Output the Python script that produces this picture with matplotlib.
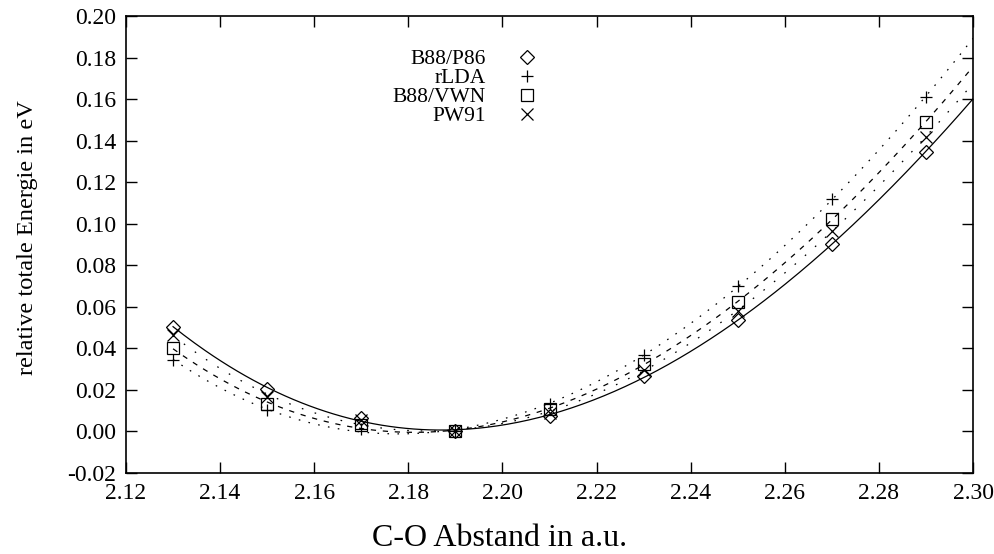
import matplotlib
matplotlib.use("Agg")
import matplotlib.pyplot as plt
import numpy as np

plt.rcParams['font.family'] = ['Liberation Serif', 'DejaVu Serif']

# C-O distance (a.u.)
abstand = [2.13, 2.15, 2.17, 2.19, 2.21, 2.23, 2.25, 2.27, 2.29]

# relative total energy (eV)
b88_p86 = [0.0505, 0.0204, 0.0067, 0.0000, 0.0072, 0.0265, 0.0535, 0.0904, 0.1347]
rlda    = [0.0345, 0.0104, 0.0013, 0.0000, 0.0131, 0.0368, 0.0698, 0.1120, 0.1611]
b88_vwn = [0.0400, 0.0132, 0.0030, 0.0000, 0.0107, 0.0325, 0.0624, 0.1021, 0.1491]
pw91    = [0.0465, 0.0164, 0.0053, 0.0000, 0.0091, 0.0298, 0.0580, 0.0965, 0.1419]

labels = ['B88/P86', 'rLDA', 'B88/VWN', 'PW91']
series = [b88_p86, rlda, b88_vwn, pw91]
markers = ['D', '+', 's', 'x']
msizes = [7.5, 9, 8.5, 8]
linestyles = ['-', (0, (1.3, 6.7)), (0, (4.2, 5.4)), (0, (1.3, 9.5))]

xticks = [2.12, 2.14, 2.16, 2.18, 2.20, 2.22, 2.24, 2.26, 2.28, 2.30]
yticks = [-0.02, 0.00, 0.02, 0.04, 0.06, 0.08, 0.10, 0.12, 0.14, 0.16, 0.18, 0.20]

fig = plt.figure(figsize=(9.95, 5.54), dpi=100)
ax = fig.add_axes([126/995, 1 - 473/554, (973-126)/995, (473-16)/554])

xfit = np.linspace(abstand[0], 2.30, 300)
handles = []
for vals, lab, m, ms, ls in zip(series, labels, markers, msizes, linestyles):
    coef = np.polyfit(abstand, vals, 3)
    ax.plot(xfit, np.polyval(coef, xfit), color='black', lw=0.9, ls=ls)
    h, = ax.plot(abstand, vals, ls='none', marker=m, ms=ms, mfc='none',
                 mec='black', mew=0.9, label=lab)
    handles.append(h)

ax.set_xlim(2.12, 2.30)
ax.set_ylim(-0.02, 0.20)
ax.set_xticks(xticks)
ax.set_yticks(yticks)
ax.set_xticklabels(['%.2f' % v for v in xticks])
ax.set_yticklabels(['%.2f' % v for v in yticks])
ax.tick_params(direction='in', length=8, width=1, top=True, right=True,
               labelsize=17, pad=7)
for s in ax.spines.values():
    s.set_linewidth(1.2)

ax.set_xlabel('C-O Abstand in a.u.', fontsize=23)
ax.xaxis.label.set_va('baseline')
ax.xaxis.set_label_coords(0.4416, -0.16)
ax.set_ylabel('relative totale Energie in eV', fontsize=17.6)
ax.yaxis.set_label_coords(-0.104, 0.516)

leg = ax.legend(handles=handles, loc='upper right', bbox_to_anchor=(0.496, 0.951),
                frameon=False, markerfirst=False, fontsize=15.5, labelspacing=-0.05,
                handlelength=0.8, handletextpad=1.5, borderpad=0)

fig.savefig('out.png', dpi=100)
